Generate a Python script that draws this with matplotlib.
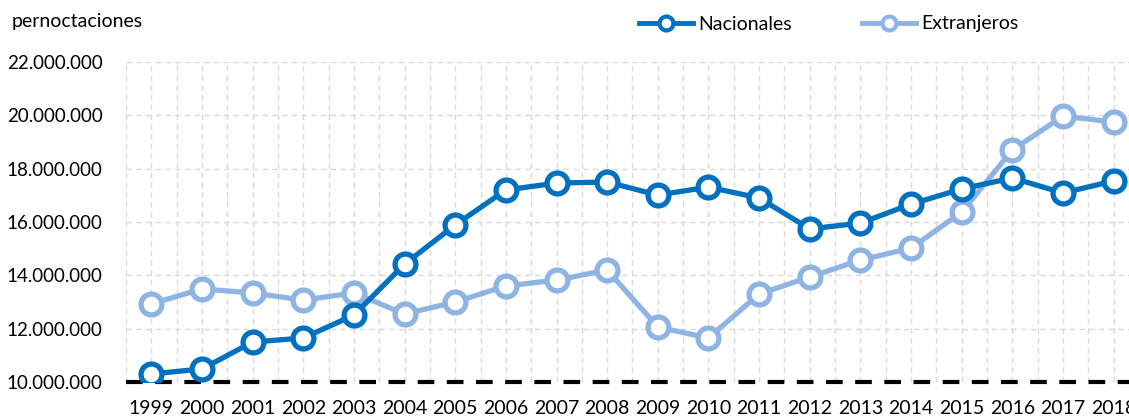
import matplotlib.pyplot as plt
from matplotlib.lines import Line2D
from matplotlib.ticker import FuncFormatter, MultipleLocator

years = list(range(1999, 2019))
nacionales = [10.30, 10.49, 11.50, 11.65, 12.51, 14.42, 15.89, 17.20, 17.46, 17.50,
              17.01, 17.31, 16.90, 15.74, 15.96, 16.67, 17.24, 17.65, 17.09, 17.54]
extranjeros = [12.93, 13.49, 13.34, 13.07, 13.34, 12.55, 13.00, 13.60, 13.82, 14.20,
               12.06, 11.65, 13.30, 13.94, 14.57, 15.02, 16.37, 18.70, 19.97, 19.75]
nacionales = [v * 1e6 for v in nacionales]
extranjeros = [v * 1e6 for v in extranjeros]

c_nac = '#0070C0'
c_ext = '#8EB4E3'
plt.rcParams['font.family'] = ['Lato', 'DejaVu Sans']

fig = plt.figure(figsize=(11.29, 4.16), dpi=100)
# axes runs past the right edge, like the cropped original
ax = fig.add_axes([126 / 1129, 34 / 416, 1013 / 1129, 320 / 416])

ax.plot(years, nacionales, color=c_nac, lw=3.8, marker='o', ms=15,
        mfc='white', mec=c_nac, mew=3.8, zorder=4)
ax.plot(years, extranjeros, color=c_ext, lw=3.8, marker='o', ms=15,
        mfc='white', mec=c_ext, mew=3.8, zorder=3)

ax.set_xlim(1998.5, 2018.5)
ax.set_ylim(10e6, 22e6)
ax.xaxis.set_major_locator(MultipleLocator(1))
ax.xaxis.set_minor_locator(MultipleLocator(0.5))
ax.yaxis.set_major_locator(MultipleLocator(2e6))
ax.yaxis.set_major_formatter(FuncFormatter(lambda v, p: f'{v:,.0f}'.replace(',', '.')))

ax.grid(True, which='both', axis='x', color='#D9D9D9', ls=(0, (4, 3)), lw=1)
ax.grid(True, which='major', axis='y', color='#D9D9D9', ls=(0, (4, 3)), lw=1)
ax.axhline(10e6, color='black', lw=3, ls=(0, (4, 3)), zorder=2, clip_on=False)
ax.set_axisbelow(True)

for s in ax.spines.values():
    s.set_visible(False)
ax.tick_params(which='both', length=0)
ax.tick_params(axis='x', pad=13, labelsize=14, colors='black')
ax.tick_params(axis='y', pad=17, labelsize=13.5, colors='black')

fig.text(12 / 1129, 1 - 22 / 416, 'pernoctaciones', fontsize=14, va='center', ha='left')

handles = [
    Line2D([], [], color=c_nac, lw=3.5, marker='o', ms=10, mfc='white', mec=c_nac, mew=3),
    Line2D([], [], color=c_ext, lw=3.5, marker='o', ms=10, mfc='white', mec=c_ext, mew=3),
]
fig.legend(handles, ['Nacionales', 'Extranjeros'], ncol=2, frameon=False,
           loc='center left', bbox_to_anchor=(639 / 1129, 1 - 24 / 416),
           fontsize=14, handlelength=2.8, handletextpad=0.25, columnspacing=3.6,
           borderaxespad=0, borderpad=0)

fig.savefig('out.png', dpi=100)
